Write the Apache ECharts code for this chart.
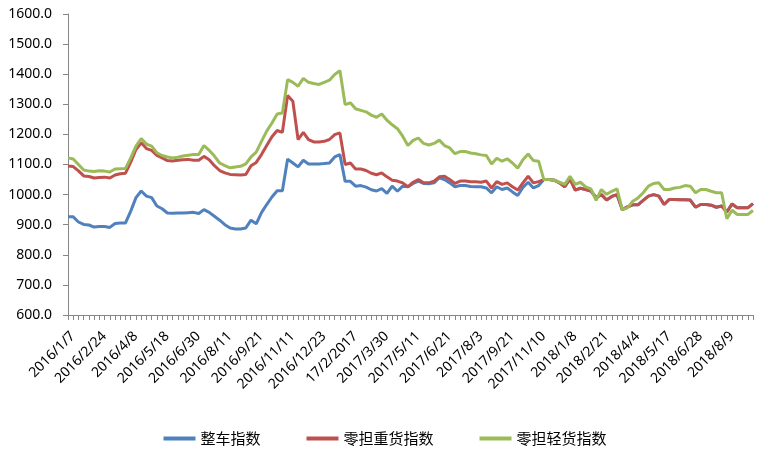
<!DOCTYPE html>
<html>
<head>
<meta charset="utf-8">
<script src="https://cdn.jsdelivr.net/npm/echarts@6/dist/echarts.min.js"></script>
<style>
html,body{margin:0;padding:0;background:#fff;}
#chart{width:770px;height:452px;}
</style>
</head>
<body>
<div id="chart"></div>
<script>
var categories = [
"2016/1/7","2016/1/14","2016/1/21","2016/1/28","2016/2/4","2016/2/17","2016/2/24",
"2016/3/3","2016/3/10","2016/3/17","2016/3/24","2016/3/31","2016/4/8",
"2016/4/14","2016/4/21","2016/4/28","2016/5/5","2016/5/12","2016/5/18",
"2016/5/26","2016/6/2","2016/6/8","2016/6/16","2016/6/23","2016/6/30",
"2016/7/7","2016/7/14","2016/7/21","2016/7/28","2016/8/4","2016/8/11",
"2016/8/18","2016/8/25","2016/9/1","2016/9/8","2016/9/14","2016/9/21",
"2016/9/29","2016/10/13","2016/10/20","2016/10/27","2016/11/3","2016/11/11",
"2016/11/17","2016/11/24","2016/12/1","2016/12/8","2016/12/15","2016/12/23",
"2016/12/29","2017/1/5","2017/1/12","2017/1/19","2017/2/9","17/2/2017",
"2017/2/23","2017/3/2","2017/3/9","2017/3/16","2017/3/23","2017/3/30",
"2017/4/6","2017/4/13","2017/4/20","2017/4/27","2017/5/4","2017/5/11",
"2017/5/18","2017/5/25","2017/6/1","2017/6/8","2017/6/15","2017/6/21",
"2017/6/29","2017/7/6","2017/7/13","2017/7/20","2017/7/27","2017/8/3",
"2017/8/10","2017/8/17","2017/8/24","2017/8/31","2017/9/14","2017/9/21",
"2017/9/28","2017/10/12","2017/10/19","2017/10/26","2017/11/2","2017/11/10",
"2017/11/16","2017/11/23","2017/11/30","2017/12/7","2017/12/14","2018/1/8",
"2018/1/11","2018/1/18","2018/1/25","2018/2/1","2018/2/8","2018/2/21",
"2018/3/1","2018/3/8","2018/3/15","2018/3/22","2018/3/29","2018/4/4",
"2018/4/12","2018/4/19","2018/4/26","2018/5/3","2018/5/10","2018/5/17",
"2018/5/24","2018/5/31","2018/6/7","2018/6/14","2018/6/21","2018/6/28",
"2018/7/5","2018/7/12","2018/7/19","2018/7/26","2018/8/2","2018/8/9",
"2018/8/16","2018/8/23","2018/8/30","2018/9/6","2018/9/13"
];

var seriesNames = ["整车指数", "零担重货指数", "零担轻货指数"];

var truckload = [
926,926,909,901,899,892,894,894,891,904,906,906,945,990,1012,995,990,962,953,939,938,939,939,940,941,937,
950,941,928,915,900,889,886,886,889,915,903,940,967,992,1013,1013,1118,1105,1092,1114,1102,1102,1102,1103,1105,1125,
1133,1044,1044,1028,1030,1025,1016,1012,1020,1004,1028,1011,1028,1026,1037,1045,1037,1036,1039,1056,1050,1039,1026,1030,1030,1027,
1026,1026,1022,1006,1026,1017,1022,1009,997,1024,1041,1022,1030,1050,
1050,1048,1039,1026,1052,1015,1021,1017,1012,990,1000,982,994,1000,950,959,966,966,981,995,
1000,995,967,984,984,983,983,982,958,967,967,965,958,962,942,969,956,956,956,970
];

var ltlHeavy = [
1095,1093,1079,1062,1060,1055,1057,1058,1055,1065,1069,1071,1108,1150,1172,1153,1147,1130,1122,1113,1112,1114,1116,1117,1114,1114,
1127,1116,1096,1080,1072,1067,1066,1065,1067,1096,1107,1133,1163,1192,1213,1207,1329,1310,1183,1207,1183,1175,1175,1177,1183,1199,
1205,1100,1105,1085,1085,1080,1071,1066,1072,1059,1048,1045,1039,1026,1041,1050,1039,1039,1045,1059,1061,1050,1037,1045,1045,1043,
1043,1041,1045,1022,1043,1034,1039,1026,1015,1039,1061,1039,1043,1050,
1050,1048,1039,1026,1052,1015,1021,1017,1012,990,1000,982,994,1000,950,959,966,966,981,995,
1000,995,967,984,984,983,983,982,958,967,967,965,958,962,942,969,956,956,956,970
];

var ltlLight = [
1122,1118,1100,1082,1078,1077,1079,1078,1075,1085,1086,1087,1122,1161,1186,1168,1161,1139,1130,1125,1122,1124,1128,1131,1133,1133,
1163,1147,1128,1105,1096,1089,1092,1094,1102,1125,1141,1177,1211,1238,1268,1271,1382,1373,1360,1386,1373,1369,1366,1373,1380,1399,
1412,1299,1305,1285,1280,1275,1264,1257,1268,1247,1232,1219,1194,1163,1180,1188,1170,1165,1170,1181,1163,1155,1136,1143,1143,1138,
1136,1132,1130,1102,1121,1111,1119,1105,1088,1116,1135,1113,1111,1050,
1050,1048,1041,1034,1061,1034,1041,1026,1019,981,1017,1001,1011,1019,950,956,978,989,1006,1028,
1037,1039,1017,1017,1022,1024,1030,1028,1006,1017,1017,1011,1006,1006,920,948,934,934,934,947
];

var yTicks = { min: 600, max: 1600, interval: 100 };
var colors = ["#4F81BD", "#C0504D", "#9BBB59"];

var chart = echarts.init(document.getElementById('chart'));
var dataSets = [truckload, ltlHeavy, ltlLight];
chart.setOption({
  animation: false,
  backgroundColor: '#ffffff',
  grid: { left: 68, right: 17, top: 14, bottom: 137, containLabel: false },
  legend: {
    top: 426,
    left: 'center',
    itemWidth: 32,
    itemHeight: 4,
    itemGap: 46,
    icon: 'rect',
    textStyle: { fontFamily: 'Noto Sans CJK SC', fontSize: 15, color: '#000' },
    data: seriesNames
  },
  xAxis: {
    type: 'category',
    boundaryGap: false,
    data: categories,
    axisLine: { lineStyle: { color: '#868686', width: 1 } },
    axisTick: { show: true, interval: 0, length: 5, lineStyle: { color: '#868686' } },
    axisLabel: {
      interval: 5,
      rotate: 45,
      margin: 14,
      verticalAlign: 'top',
      fontFamily: 'Noto Sans',
      fontSize: 14,
      color: '#000'
    },
    splitLine: { show: false }
  },
  yAxis: {
    type: 'value',
    min: yTicks.min,
    max: yTicks.max,
    interval: yTicks.interval,
    axisLine: { show: true, lineStyle: { color: '#868686', width: 1 } },
    axisTick: { show: true, length: 5, lineStyle: { color: '#868686' } },
    axisLabel: {
      margin: 16,
      fontFamily: 'Noto Sans',
      fontSize: 14,
      color: '#000',
      formatter: function (v) { return v.toFixed(1); }
    },
    splitLine: { show: false }
  },
  series: seriesNames.map(function (name, k) {
    return {
      name: name,
      type: 'line',
      data: dataSets[k],
      showSymbol: false,
      symbol: 'none',
      lineStyle: { color: colors[k], width: 3 },
      itemStyle: { color: colors[k] }
    };
  })
});
</script>
</body>
</html>
